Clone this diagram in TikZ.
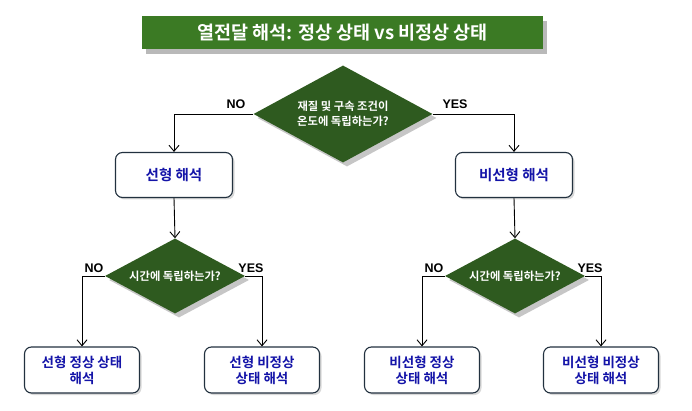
\documentclass[tikz,border=0pt]{standalone}
\usepackage{fontspec}
\setmainfont{Noto Sans CJK KR}[BoldFont={Noto Sans CJK KR Bold}]
\newfontfamily\latinb{Liberation Sans}
\usetikzlibrary{arrows.meta,shapes.geometric,shadows}

\definecolor{titlegreen}{HTML}{3B7A24}
\definecolor{askgreen}{HTML}{2E5A1F}
\definecolor{boxline}{HTML}{22313F}
\definecolor{boxtext}{HTML}{1414A8}

\tikzset{
  headbar/.style={fill=titlegreen, text=white, minimum width=401pt, minimum height=33pt,
    font=\bfseries\fontsize{18.5}{22}\selectfont,
    drop shadow={shadow xshift=4pt, shadow yshift=-5pt, opacity=0.55, fill=gray}},
  ask/.style={diamond, fill=askgreen, text=white, align=center, inner sep=0pt,
    shape aspect=1.86, font=\bfseries\fontsize{11.3}{14.5}\selectfont,
    drop shadow={shadow xshift=4pt, shadow yshift=-4pt, opacity=0.45, fill=gray}},
  resbox/.style={draw=boxline, line width=1.1pt, fill=white, rounded corners=7pt,
    text=boxtext, align=center, inner sep=0pt,
    font=\bfseries\fontsize{13.5}{16}\selectfont,
    drop shadow={shadow xshift=2pt, shadow yshift=-2pt, opacity=0.3, fill=gray}},
  yn/.style={font=\latinb\bfseries\fontsize{12.5}{14}\selectfont},
  flow/.style={line width=0.9pt, -{Straight Barb[length=6pt,width=10pt]}}
}

\begin{document}
\begin{tikzpicture}[x=1pt, y=-1pt]
    \useasboundingbox (0,0) rectangle (692,411);

    % Titel
    \node[headbar] (head) at (342.5,32.5) {열전달 해석: 정상 상태 vs 비정상 상태};

    % Erste Frage
    \node[ask, minimum width=179pt, minimum height=97pt] (q1) at (343,114)
        {재질 및 구속 조건이\\온도에 독립하는가?};

    \node[resbox, minimum width=117pt, minimum height=45pt, font=\bfseries\fontsize{14.5}{17}\selectfont]
        (lin) at (174,175) {선형 해석};
    \node[resbox, minimum width=117pt, minimum height=45pt, font=\bfseries\fontsize{14.5}{17}\selectfont]
        (nonlin) at (514,175) {비선형 해석};

    \draw[flow] (q1.west) -| (lin.north);
    \draw[flow] (q1.east) -| (nonlin.north);
    \node[yn] (no1) at (236,104) {NO};
    \node[yn] (yes1) at (455,104) {YES};

    % Zeitfragen
    \node[ask, minimum width=140pt, minimum height=75pt] (q2) at (175,276) {시간에 독립하는가?};
    \node[ask, minimum width=140pt, minimum height=75pt] (q3) at (515,276) {시간에 독립하는가?};

    \draw[flow] (lin.south) -- (q2.north);
    \draw[flow] (nonlin.south) -- (q3.north);

    % Ergebnisse
    \node[resbox, minimum width=115pt, minimum height=46pt] (linst) at (82,370) {선형 정상 상태\\해석};
    \node[resbox, minimum width=115pt, minimum height=46pt] (lintr) at (262,370) {선형 비정상\\상태 해석};
    \node[resbox, minimum width=115pt, minimum height=46pt] (nlst) at (422,370) {비선형 정상\\상태 해석};
    \node[resbox, minimum width=115pt, minimum height=46pt] (nltr) at (601,370) {비선형 비정상\\상태 해석};

    \draw[flow] (q2.west) -| (linst.north);
    \draw[flow] (q2.east) -| (lintr.north);
    \draw[flow] (q3.west) -| (nlst.north);
    \draw[flow] (q3.east) -| (nltr.north);

    \node[yn] (no2) at (94,268) {NO};
    \node[yn] (yes2) at (251,268) {YES};
    \node[yn] (no3) at (434,268) {NO};
    \node[yn] (yes3) at (590,268) {YES};

\end{tikzpicture}
\end{document}
